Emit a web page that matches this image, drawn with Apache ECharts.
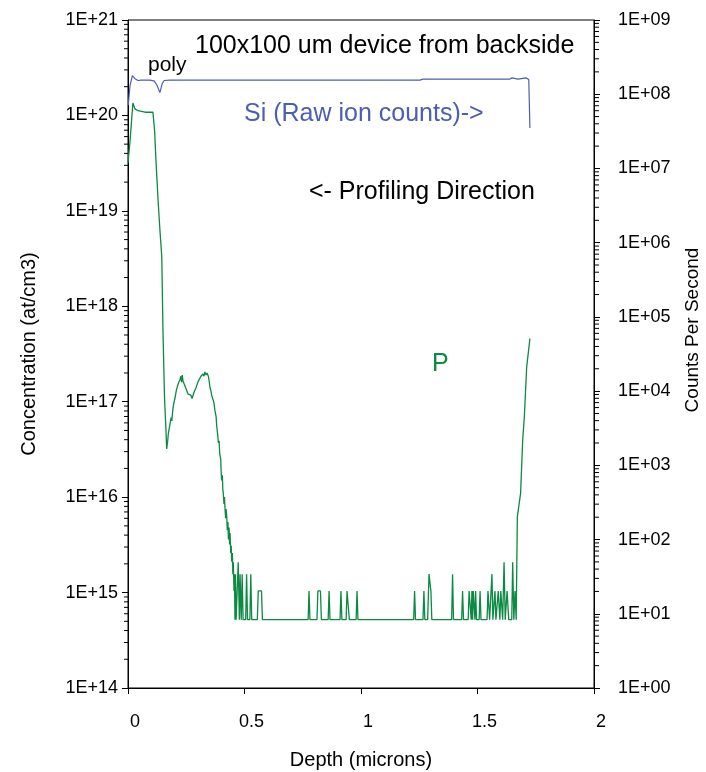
<!DOCTYPE html>
<html>
<head>
<meta charset="utf-8">
<title>SIMS depth profile</title>
<style>
html,body { height:100%; width:100%; margin:0; padding:0; background:#fff; }
</style>
<script src="https://cdn.jsdelivr.net/npm/echarts@6/dist/echarts.min.js"></script>
</head>
<body>
<div id="main" style="width:706px;height:772px;"></div>
<script type="text/javascript">
// P profile: depth (microns) / concentration (at/cm3)
var pDepth = [0.000, 0.009, 0.021, 0.030, 0.043, 0.073, 0.107, 0.114, 0.120, 0.129,
	0.137, 0.145, 0.150, 0.157, 0.163, 0.166, 0.170, 0.173, 0.176, 0.180,
	0.185, 0.188, 0.192, 0.196, 0.202, 0.207, 0.212, 0.218, 0.223, 0.227,
	0.230, 0.233, 0.236, 0.241, 0.245, 0.250, 0.255, 0.258, 0.262, 0.266,
	0.270, 0.275, 0.279, 0.283, 0.288, 0.292, 0.296, 0.300, 0.305, 0.309,
	0.313, 0.318, 0.322, 0.326, 0.330, 0.335, 0.339, 0.345, 0.349, 0.352,
	0.356, 0.359, 0.365, 0.369, 0.373, 0.378, 0.381, 0.385, 0.388, 0.391,
	0.394, 0.398, 0.400, 0.402, 0.405, 0.407, 0.409, 0.412, 0.414, 0.416,
	0.419, 0.421, 0.424, 0.426, 0.429, 0.431, 0.434, 0.436, 0.438, 0.441,
	0.443, 0.445, 0.448, 0.450, 0.452, 0.455, 0.457, 0.459, 0.461, 0.464,
	0.468, 0.473, 0.478, 0.481, 0.486, 0.490, 0.494, 0.505, 0.509, 0.513,
	0.523, 0.527, 0.531, 0.555, 0.559, 0.573, 0.577, 0.773, 0.777, 0.781,
	0.811, 0.815, 0.826, 0.830, 0.859, 0.863, 0.867, 0.910, 0.914, 0.918,
	0.936, 0.940, 0.946, 0.950, 0.979, 0.983, 0.987, 1.226, 1.230, 1.234,
	1.266, 1.270, 1.274, 1.286, 1.292, 1.300, 1.304, 1.389, 1.393, 1.397,
	1.432, 1.436, 1.440, 1.460, 1.464, 1.470, 1.473, 1.476, 1.479, 1.482,
	1.486, 1.489, 1.492, 1.496, 1.507, 1.511, 1.515, 1.541, 1.545, 1.552,
	1.558, 1.562, 1.566, 1.571, 1.575, 1.579, 1.585, 1.589, 1.594, 1.596,
	1.600, 1.604, 1.608, 1.614, 1.619, 1.623, 1.627, 1.634, 1.647, 1.651,
	1.656, 1.661, 1.666, 1.668, 1.671, 1.685, 1.694, 1.701, 1.711, 1.725];
var pConc = [3.2e19, 5.5e19, 1.35e20, 1.17e20, 1.12e20, 1.08e20, 1.08e20, 7.0e19, 3.4e19, 1.3e19,
	6.3e18, 3.3e18, 5.6e17, 1.05e17, 5.0e16, 3.2e16, 3.8e16, 4.6e16, 4.4e16, 5.8e16,
	6.8e16, 6.3e16, 8.1e16, 9.5e16, 1.1e17, 1.3e17, 1.45e17, 1.6e17, 1.7e17, 1.85e17,
	1.6e17, 1.9e17, 1.65e17, 1.6e17, 1.45e17, 1.35e17, 1.3e17, 1.2e17, 1.25e17, 1.15e17,
	1.17e17, 1.08e17, 1.12e17, 1.25e17, 1.3e17, 1.4e17, 1.5e17, 1.6e17, 1.7e17, 1.65e17,
	1.85e17, 1.9e17, 1.95e17, 1.85e17, 2.05e17, 1.9e17, 2.0e17, 1.85e17, 1.6e17, 1.4e17,
	1.3e17, 1.17e17, 1.05e17, 9.7e16, 8.1e16, 7.0e16, 5.5e16, 4.5e16, 3.7e16, 3.9e16,
	2.8e16, 2.5e16, 1.8e16, 1.5e16, 1.7e16, 1.2e16, 1.1e16, 8.5e15, 1.0e16, 7.9e15,
	6.0e15, 7.5e15, 6.2e15, 4.5e15, 5.5e15, 3.6e15, 4.8e15, 3.2e15, 4.2e15, 2.6e15,
	3.1e15, 2.1e15, 2.6e15, 1.56e15, 2.08e15, 1.04e15, 1.56e15, 5.2e14, 1.56e15, 5.2e14,
	5.2e14, 2.08e15, 5.2e14, 1.56e15, 5.2e14, 1.56e15, 5.2e14, 5.2e14, 1.56e15, 5.2e14,
	5.2e14, 1.56e15, 5.2e14, 5.2e14, 1.04e15, 1.04e15, 5.2e14, 5.2e14, 1.04e15, 5.2e14,
	5.2e14, 1.04e15, 1.04e15, 5.2e14, 5.2e14, 1.04e15, 5.2e14, 5.2e14, 1.04e15, 5.2e14,
	5.2e14, 1.04e15, 1.04e15, 5.2e14, 5.2e14, 1.04e15, 5.2e14, 5.2e14, 1.04e15, 5.2e14,
	5.2e14, 1.04e15, 5.2e14, 5.2e14, 1.56e15, 1.04e15, 5.2e14, 5.2e14, 1.56e15, 5.2e14,
	5.2e14, 1.04e15, 5.2e14, 5.2e14, 1.04e15, 1.04e15, 5.2e14, 1.04e15, 5.2e14, 1.04e15,
	1.04e15, 5.2e14, 1.04e15, 5.2e14, 5.2e14, 1.04e15, 5.2e14, 5.2e14, 1.04e15, 5.2e14,
	5.2e14, 1.56e15, 5.2e14, 5.2e14, 1.04e15, 5.2e14, 5.2e14, 1.04e15, 1.04e15, 5.2e14,
	1.04e15, 1.04e15, 5.2e14, 2.08e15, 5.2e14, 5.2e14, 1.04e15, 5.2e14, 5.2e14, 2.08e15,
	5.2e14, 1.04e15, 5.2e14, 5.2e14, 6.2e15, 1.1e16, 4.0e16, 6.9e16, 2.3e17, 4.6e17];

// Si raw ion counts (counts per second)
var siDepth = [0.001, 0.009, 0.019, 0.030, 0.043, 0.056, 0.094, 0.112, 0.124, 0.137,
	0.146, 0.155, 0.180, 1.253, 1.266, 1.639, 1.648, 1.674, 1.682, 1.708, 1.720, 1.725];
var siCounts = [7.1e7, 1.33e8, 1.78e8, 1.62e8, 1.53e8, 1.55e8, 1.55e8, 1.51e8, 1.33e8, 1.05e8,
	1.37e8, 1.53e8, 1.55e8, 1.55e8, 1.6e8, 1.6e8, 1.66e8, 1.6e8, 1.65e8, 1.66e8, 1.58e8, 3.5e7];

// 坐标轴刻度标签
var xTicks = [0, 0.5, 1, 1.5, 2];
var leftLabels = ['1E+14', '1E+15', '1E+16', '1E+17', '1E+18', '1E+19', '1E+20', '1E+21'];
var rightLabels = ['1E+00', '1E+01', '1E+02', '1E+03', '1E+04', '1E+05', '1E+06', '1E+07', '1E+08', '1E+09'];
var minorSteps = [2, 3, 4, 5, 6, 7, 8, 9];

var FONT = '"Liberation Sans", Arial, sans-serif';
var GREEN = '#0a8a42';
var BLUE = '#4a5fb3';

function zip(xs, ys) {
	var out = [];
	for (var i = 0; i < xs.length; i++) {
		out.push([xs[i], ys[i]]);
	}
	return out;
}

// minor ticks for a log axis, one point per tick
function minorTicks(x, fromExp, toExp) {
	var out = [];
	for (var e = fromExp; e < toExp; e++) {
		for (var j = 0; j < minorSteps.length; j++) {
			out.push([x, minorSteps[j] * Math.pow(10, e)]);
		}
	}
	return out;
}

function tickRenderer(len) {
	return function (params, api) {
		var p = api.coord([api.value(0), api.value(1)]);
		return {
			type: 'line',
			shape: { x1: p[0], y1: p[1], x2: p[0] + len, y2: p[1] },
			style: { stroke: '#000', lineWidth: 1 }
		};
	};
}

var myChart = echarts.init(document.getElementById('main'));

var option = {
	animation: false,
	backgroundColor: '#fff',
	grid: {
		left: 128,
		right: 112,
		top: 20,
		bottom: 84,
		outerBoundsMode: 'none',
		containLabel: false,
		show: true,
		borderColor: '#000',
		borderWidth: 1
	},
	xAxis: {
		type: 'value',
		min: 0,
		max: 2,
		interval: 0.5,
		name: 'Depth (microns)',
		nameLocation: 'middle',
		nameGap: 62,
		nameTextStyle: { fontFamily: FONT, fontSize: 20, color: '#000' },
		axisLine: { lineStyle: { color: '#000', width: 1 } },
		axisTick: { length: 6, lineStyle: { color: '#000' } },
		axisLabel: {
			margin: 25,
			padding: [0, 0, 0, 14],
			fontFamily: FONT, fontSize: 18, color: '#000',
			formatter: function (v) { return String(xTicks[Math.round(v * 2)]); }
		},
		splitLine: { show: false }
	},
	yAxis: [{
		type: 'log',
		logBase: 10,
		min: 1e14,
		max: 1e21,
		interval: 1,
		position: 'left',
		name: 'Concentration (at/cm3)',
		nameLocation: 'middle',
		nameGap: 89,
		nameTextStyle: { fontFamily: FONT, fontSize: 20, color: '#000' },
		axisLine: { show: true, lineStyle: { color: '#000', width: 1 } },
		axisTick: { length: 6, lineStyle: { color: '#000' } },
		axisLabel: {
			margin: 10,
			fontFamily: FONT, fontSize: 18, color: '#000',
			formatter: function (v) { return leftLabels[Math.round(Math.log10(v)) - 14]; }
		},
		splitLine: { show: false }
	}, {
		type: 'log',
		logBase: 10,
		min: 1,
		max: 1e9,
		interval: 1,
		position: 'right',
		axisLine: { show: true, lineStyle: { color: '#000', width: 1 } },
		axisTick: { length: 6, lineStyle: { color: '#000' } },
		axisLabel: {
			margin: 24,
			fontFamily: FONT, fontSize: 18, color: '#000',
			formatter: function (v) { return rightLabels[Math.round(Math.log10(v))]; }
		},
		splitLine: { show: false }
	}],
	series: [{
		name: 'P',
		type: 'line',
		yAxisIndex: 0,
		showSymbol: false,
		symbol: 'none',
		lineStyle: { color: GREEN, width: 1.3 },
		data: zip(pDepth, pConc)
	}, {
		name: 'Si',
		type: 'line',
		yAxisIndex: 1,
		showSymbol: false,
		symbol: 'none',
		lineStyle: { color: BLUE, width: 1.2 },
		data: zip(siDepth, siCounts)
	}, {
		// left minor ticks
		type: 'custom',
		yAxisIndex: 0,
		silent: true,
		clip: false,
		renderItem: tickRenderer(-4),
		data: minorTicks(0, 14, 21)
	}, {
		// right minor ticks
		type: 'custom',
		yAxisIndex: 1,
		silent: true,
		clip: false,
		renderItem: tickRenderer(5),
		data: minorTicks(2, 0, 9)
	}],
	graphic: [
		{ type: 'text', x: 195, y: 46, style: { text: '100x100 um device from backside', font: '25px ' + FONT, fill: '#000', verticalAlign: 'middle' } },
		{ type: 'text', x: 148, y: 65, style: { text: 'poly', font: '21px ' + FONT, fill: '#000', verticalAlign: 'middle' } },
		{ type: 'text', x: 244, y: 114, style: { text: 'Si (Raw ion counts)->', font: '25px ' + FONT, fill: BLUE, verticalAlign: 'middle' } },
		{ type: 'text', x: 309, y: 192, style: { text: '<- Profiling Direction', font: '25px ' + FONT, fill: '#000', verticalAlign: 'middle' } },
		{ type: 'text', x: 432, y: 364, style: { text: 'P', font: '25px ' + FONT, fill: GREEN, verticalAlign: 'middle' } },
		{ type: 'text', x: 693, y: 330, rotation: Math.PI / 2, style: { text: 'Counts Per Second', font: '19px ' + FONT, fill: '#000', align: 'center', verticalAlign: 'middle' } }
	]
};

myChart.setOption(option);
</script>
</body>
</html>
